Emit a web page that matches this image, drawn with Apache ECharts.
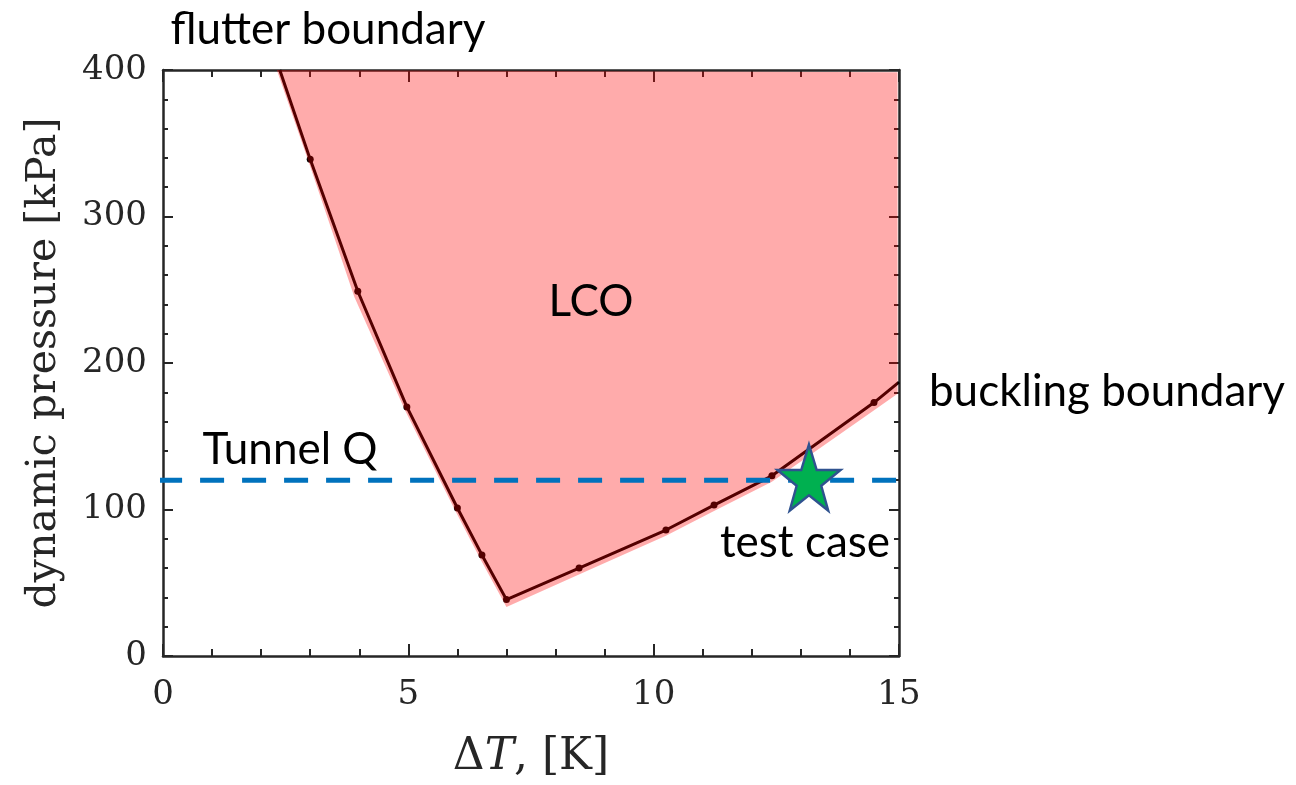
<!DOCTYPE html>
<html>
<head>
<meta charset="utf-8">
<script src="https://cdn.jsdelivr.net/npm/echarts@6/dist/echarts.min.js"></script>
<style>
  html, body { margin: 0; padding: 0; background: #ffffff; overflow: hidden; }
  #chart { width: 1296px; height: 785px; }
</style>
</head>
<body>
<div id="chart"></div>
<script>
// Stability boundary of the panel: ΔT [K] against dynamic pressure [kPa]
const boundaryT = [2.38, 3.0, 3.97, 4.97, 6.0, 6.5, 7.0, 8.48, 10.25, 11.23, 12.41, 14.49, 15.0];
const boundaryQ = [400, 339, 249, 170, 101, 69, 38.5, 60, 86, 103, 123, 173, 187];

// Edge of the shaded LCO region (slightly wider than the boundary curve)
const lcoEdgeT = [2.32, 2.95, 3.9, 4.93, 5.96, 6.47, 7.0, 8.5, 10.25, 11.23, 12.41, 14.5, 14.97, 14.97];
const lcoEdgeQ = [400, 339, 245, 168, 99, 66, 33.5, 56, 82, 99, 119, 168, 179, 398.5];

// Wind tunnel dynamic pressure line and the chosen test case
const tunnelT = [-0.1, 15];
const tunnelQ = 120;
const testCaseT = 13.165;
const testCaseQ = 121.8;

// Axis ticks
const xTicks = [0, 5, 10, 15];
const yTicks = [0, 100, 200, 300, 400];

const chart = echarts.init(document.getElementById('chart'));

const axisColor = '#262626';
const serif = 'DejaVu Serif';
const sans = 'Lato';

const boundaryData = boundaryT.map((t, i) => {
  const item = { value: [t, boundaryQ[i]] };
  if (i === 0 || i === boundaryT.length - 1) item.symbol = 'none';
  return item;
});
const edgeData = lcoEdgeT.map((t, i) => [t, lcoEdgeQ[i]]);

const starPath = 'path://M50,0 L61.8,35.1 L98.1,35.1 L68.8,56.8 L79.4,91 L50,70 L20.6,91 L31.2,56.8 L1.9,35.1 L38.2,35.1 Z';

function baseX(pos, showLabels) {
  return {
    type: 'value', position: pos, min: xTicks[0], max: xTicks[xTicks.length - 1], interval: 5,
    axisLine: { show: true, onZero: false, lineStyle: { color: axisColor, width: 2.5 } },
    axisTick: { show: true, inside: true, length: 12, lineStyle: { color: axisColor, width: 2 } },
    minorTick: { show: true, splitNumber: 5, length: 7, lineStyle: { color: axisColor, width: 2 } },
    splitLine: { show: false },
    axisLabel: { show: showLabels, color: '#262626', fontFamily: serif, fontSize: 34, margin: 22 }
  };
}
function baseY(pos, showLabels) {
  return {
    type: 'value', position: pos, min: yTicks[0], max: yTicks[yTicks.length - 1], interval: 100,
    axisLine: { show: true, onZero: false, lineStyle: { color: axisColor, width: 2.5 } },
    axisTick: { show: true, inside: true, length: 10, lineStyle: { color: axisColor, width: 2 } },
    minorTick: { show: true, splitNumber: 5, length: 5, lineStyle: { color: axisColor, width: 2 } },
    splitLine: { show: false },
    axisLabel: { show: showLabels, color: '#262626', fontFamily: serif, fontSize: 34, margin: 16 }
  };
}

const xMain = baseX('bottom', true);
xMain.name = '{n|Δ}{i|T}{n|, [K]}';
xMain.nameLocation = 'middle';
xMain.nameGap = 80;
xMain.nameTextStyle = {
  rich: {
    n: { fontFamily: serif, fontSize: 44, color: '#262626' },
    i: { fontFamily: serif, fontSize: 44, fontStyle: 'italic', color: '#262626' }
  }
};
const yMain = baseY('left', true);
yMain.name = 'dynamic pressure [kPa]';
yMain.nameLocation = 'middle';
yMain.nameGap = 98;
yMain.nameTextStyle = { fontFamily: serif, fontSize: 41, color: '#262626' };

const note = (text, x, y) => ({
  type: 'text', x: x, y: y, z: 20,
  style: { text: text, font: '44px ' + sans, fill: '#000', textAlign: 'center', textVerticalAlign: 'middle' }
});

chart.setOption({
  backgroundColor: '#ffffff',
  animation: false,
  grid: { left: 163, width: 736, top: 70, height: 593, containLabel: false },
  xAxis: [xMain, baseX('top', false)],
  yAxis: [yMain, baseY('right', false)],
  series: [
    {
      name: 'boundary', type: 'line', z: 2,
      data: boundaryData,
      lineStyle: { color: '#000000', width: 3 },
      itemStyle: { color: '#000000' },
      symbol: 'circle', symbolSize: 7, showSymbol: true
    },
    {
      name: 'LCO', type: 'custom', z: 3,
      renderItem: function (params, api) {
        const pts = edgeData.map(p => api.coord(p));
        return { type: 'polygon', shape: { points: pts }, style: { fill: 'rgba(255,0,0,0.33)' } };
      },
      data: [0]
    },
    {
      name: 'Tunnel Q', type: 'line', z: 4, clip: false,
      data: tunnelT.map(t => [t, tunnelQ]),
      symbol: 'none',
      lineStyle: { color: '#0072BD', width: 5, type: [24, 18] }
    },
    {
      name: 'test case', type: 'scatter', z: 5,
      data: [[testCaseT, testCaseQ]],
      symbol: starPath, symbolSize: [63, 66], symbolKeepAspect: false,
      itemStyle: { color: '#00B050', borderColor: '#2F528F', borderWidth: 2.5, opacity: 1 }
    }
  ],
  graphic: [
    note('flutter boundary', 328, 30),
    note('LCO', 591, 302),
    note('Tunnel Q', 290, 450),
    note('buckling boundary', 1107, 392),
    note('test case', 805, 543)
  ]
});
</script>
</body>
</html>
